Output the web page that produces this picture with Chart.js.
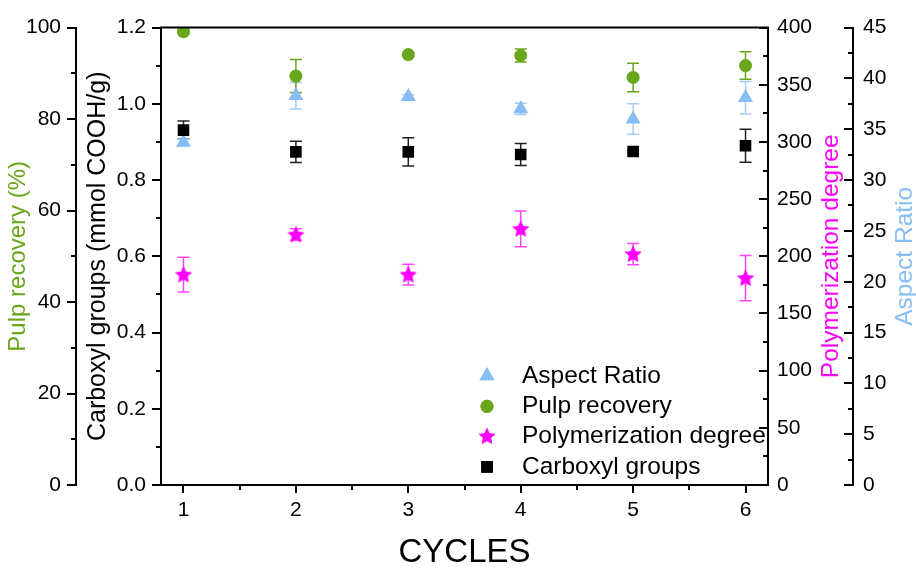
<!DOCTYPE html>
<html>
<head>
<meta charset="utf-8">
<title>Cycles chart</title>
<script src="https://cdn.jsdelivr.net/npm/chart.js@4.4.1/dist/chart.umd.min.js"></script>
<style>
    html, body { margin: 0; padding: 0; background: #fff; }
    #wrap { width: 916px; height: 569px; }
</style>
</head>
<body>
<div id="wrap"><canvas id="cyclesChart" width="916" height="569"></canvas></div>
<script>
// --- Data ---
const cycles = [1, 2, 3, 4, 5, 6];

const aspectRatio = [33.7, 38.3, 38.2, 37.0, 36.0, 38.1];
const aspectRatioErr = [0.3, 1.3, 0.2, 0.55, 1.5, 1.6];

const pulpRecovery = [99.1, 89.4, 94.1, 93.9, 89.1, 91.7];
const pulpRecoveryErr = [0.5, 3.6, 0.3, 1.4, 3.1, 3.0];

const polymerization = [184, 219, 184, 224, 202, 181];
const polymerizationErr = [15.2, 5, 9.1, 15.6, 9.3, 19.8];

const carboxyl = [0.931, 0.874, 0.874, 0.867, 0.875, 0.890];
const carboxylErr = [0.024, 0.028, 0.037, 0.029, 0.004, 0.043];

// tick labels
const cycleTicks = [1, 2, 3, 4, 5, 6];
const pulpTicks = [0, 20, 40, 60, 80, 100];
const carboxylTicks = [0, 0.2, 0.4, 0.6, 0.8, 1.0, 1.2];
const polyTicks = [0, 50, 100, 150, 200, 250, 300, 350, 400];
const aspectTicks = [0, 5, 10, 15, 20, 25, 30, 35, 40, 45];

const GREEN = '#6aa61c';
const BLUE = '#86bdf4';
const MAGENTA = '#ff00ff';
const FONT = "'Liberation Sans', Arial, sans-serif";

// filled 5-point star used as point style (Chart.js 'star' is only line based)
function makeStar(color) {
    const c = document.createElement('canvas');
    c.width = 20; c.height = 20;
    const g = c.getContext('2d');
    const R = 9.2, r = 4.4;
    g.beginPath();
    for (let i = 0; i < 10; i++) {
        const rad = i % 2 === 0 ? R : r;
        const a = -Math.PI / 2 + i * Math.PI / 5;
        const px = 10 + rad * Math.cos(a), py = 10.5 + rad * Math.sin(a);
        if (i === 0) g.moveTo(px, py); else g.lineTo(px, py);
    }
    g.closePath();
    g.fillStyle = color;
    g.fill();
    return c;
}
const starImg = makeStar(MAGENTA);

function toPoints(values) {
    return cycles.map((c, i) => ({ x: c, y: values[i] }));
}

// --- error bars, drawn under the markers ---
const errorBarsPlugin = {
    id: 'errorBars',
    beforeDatasetsDraw(chart) {
        const ctx = chart.ctx;
        const xs = chart.scales.x;
        const area = chart.chartArea;
        ctx.save();
        ctx.beginPath();
        ctx.rect(area.left, area.top, area.right - area.left, area.bottom - area.top);
        ctx.clip();
        chart.data.datasets.forEach(ds => {
            const ys = chart.scales[ds.yAxisID];
            ctx.strokeStyle = ds.errColor;
            ctx.lineWidth = 1.5;
            ds.data.forEach((p, i) => {
                const e = ds.errors[i];
                const px = xs.getPixelForValue(p.x);
                const top = ys.getPixelForValue(p.y + e);
                const bot = ys.getPixelForValue(p.y - e);
                ctx.beginPath();
                ctx.moveTo(px, top); ctx.lineTo(px, bot);
                ctx.moveTo(px - 6, top); ctx.lineTo(px + 6, top);
                ctx.moveTo(px - 6, bot); ctx.lineTo(px + 6, bot);
                ctx.stroke();
            });
        });
        ctx.restore();
    }
};

// --- frame, tick marks (major + minor), right titles and legend ---
const decorPlugin = {
    id: 'decor',
    afterDraw(chart) {
        const ctx = chart.ctx;
        const area = chart.chartArea;
        ctx.save();
        ctx.strokeStyle = '#000';
        ctx.lineWidth = 2;

        // top frame line
        ctx.beginPath();
        ctx.moveTo(area.left - 1, area.top);
        ctx.lineTo(area.right + 1, area.top);
        ctx.stroke();

        // y ticks all point to the left of their axis line
        ['yCarb', 'yPulp', 'yPoly', 'yAsp'].forEach(id => {
            const s = chart.scales[id];
            const ax = s.position === 'left' ? s.right : s.left;
            const vals = s.ticks.map(t => t.value);
            ctx.beginPath();
            vals.forEach((v, i) => {
                const py = Math.round(s.getPixelForValue(v));
                ctx.moveTo(ax, py); ctx.lineTo(ax - 9, py);
                if (i < vals.length - 1) {
                    const my = Math.round(s.getPixelForValue((v + vals[i + 1]) / 2));
                    ctx.moveTo(ax, my); ctx.lineTo(ax - 5, my);
                }
            });
            ctx.stroke();
        });

        // x ticks point down
        const xs = chart.scales.x;
        ctx.beginPath();
        xs.ticks.forEach((t, i, arr) => {
            const px = Math.round(xs.getPixelForValue(t.value));
            ctx.moveTo(px, xs.top); ctx.lineTo(px, xs.top + 8);
            if (i < arr.length - 1) {
                const mx = Math.round(xs.getPixelForValue((t.value + arr[i + 1].value) / 2));
                ctx.moveTo(mx, xs.top); ctx.lineTo(mx, xs.top + 5);
            }
        });
        ctx.stroke();

        // right axis titles, reading bottom to top
        const midY = (area.top + area.bottom) / 2;
        ctx.font = '24.5px ' + FONT;
        ctx.textAlign = 'center';
        ctx.textBaseline = 'middle';
        [['Polymerization degree', MAGENTA, 831.5], ['Aspect Ratio', BLUE, 905]].forEach(([txt, col, x]) => {
            ctx.save();
            ctx.translate(x, midY);
            ctx.rotate(-Math.PI / 2);
            ctx.fillStyle = col;
            ctx.fillText(txt, 0, 0);
            ctx.restore();
        });

        // legend inside the plot
        const items = [
            ['Aspect Ratio', 'triangle', BLUE, 8.7],
            ['Pulp recovery', 'circle', GREEN, 6.5],
            ['Polymerization degree', starImg, MAGENTA, 9],
            ['Carboxyl groups', 'rect', '#000', 8.2]
        ];
        ctx.textAlign = 'left';
        items.forEach(([label, style, col, radius], i) => {
            const ly = 376 + i * 30.3;
            ctx.fillStyle = col;
            if (style instanceof HTMLCanvasElement) {
                ctx.drawImage(style, 487 - 10, ly - 10.5);
            } else {
                Chart.helpers.drawPoint(ctx, { pointStyle: style, radius: radius, rotation: 0, borderWidth: 0 }, 487, ly);
                ctx.fill();
            }
            ctx.fillStyle = '#000';
            ctx.fillText(label, 522, ly);
        });
        ctx.restore();
    }
};

function yScale(pos, weight, min, max, ticks, fmt, width, pad) {
    return {
        type: 'linear',
        position: pos,
        weight: weight,
        min: min,
        max: max,
        afterBuildTicks: s => { s.ticks = ticks.map(v => ({ value: v })); },
        afterFit: s => { s.width = width; },
        grid: { display: false, drawTicks: false, drawOnChartArea: false },
        border: { display: true, color: '#000', width: 2 },
        ticks: { color: '#000', padding: pad, font: { family: FONT, size: 21 }, callback: fmt }
    };
}

const carbScale = yScale('left', 0, 0, 1.2, carboxylTicks, v => v.toFixed(1), 85, 15);
carbScale.title = { display: true, text: 'Carboxyl groups (mmol COOH/g)', color: '#000',
    font: { family: FONT, size: 25, lineHeight: 1 }, padding: { top: 9.5, bottom: 0 } };
const pulpScale = yScale('left', 1, 0, 100, pulpTicks, v => String(v), 76, 15);
pulpScale.title = { display: true, text: 'Pulp recovery (%)', color: GREEN,
    font: { family: FONT, size: 24, lineHeight: 1 }, padding: { top: 6.5, bottom: 0 } };
const polyScale = yScale('right', 0, 0, 400, polyTicks, v => String(v), 85, 9);
const aspScale = yScale('right', 1, 0, 45, aspectTicks, v => String(v), 63, 10);

const ctx = document.getElementById('cyclesChart').getContext('2d');
new Chart(ctx, {
    type: 'scatter',
    data: {
        datasets: [
            {
                label: 'Carboxyl groups', data: toPoints(carboxyl), errors: carboxylErr, errColor: '#222',
                yAxisID: 'yCarb', pointStyle: 'rect', pointRadius: 8.2, backgroundColor: '#000', borderWidth: 0
            },
            {
                label: 'Polymerization degree', data: toPoints(polymerization), errors: polymerizationErr, errColor: '#ff44ff',
                yAxisID: 'yPoly', pointStyle: starImg, pointRadius: 9, backgroundColor: MAGENTA, borderWidth: 0
            },
            {
                label: 'Aspect Ratio', data: toPoints(aspectRatio), errors: aspectRatioErr, errColor: '#a3cdf7',
                yAxisID: 'yAsp', pointStyle: 'triangle', pointRadius: 8.7, backgroundColor: BLUE, borderWidth: 0
            },
            {
                label: 'Pulp recovery', data: toPoints(pulpRecovery), errors: pulpRecoveryErr, errColor: GREEN,
                yAxisID: 'yPulp', pointStyle: 'circle', pointRadius: 6.5, backgroundColor: GREEN, borderWidth: 0,
                clip: 0
            }
        ]
    },
    options: {
        responsive: false,
        animation: false,
        devicePixelRatio: 1,
        layout: { padding: { top: 24, left: 0, right: 0, bottom: 0 } },
        plugins: { legend: { display: false }, tooltip: { enabled: false } },
        scales: {
            x: {
                type: 'linear',
                position: 'bottom',
                min: 0.8,
                max: 6.2,
                afterBuildTicks: s => { s.ticks = cycleTicks.map(v => ({ value: v })); },
                afterFit: s => { s.height = 84; },
                grid: { display: false, drawTicks: false, drawOnChartArea: false },
                border: { display: true, color: '#000', width: 2 },
                ticks: { color: '#000', padding: 13, maxRotation: 0, autoSkip: false,
                    font: { family: FONT, size: 21 }, callback: v => String(v) },
                title: { display: true, text: 'CYCLES', color: '#000',
                    font: { family: FONT, size: 33, lineHeight: 1 }, padding: { top: 0, bottom: 0 } }
            },
            yCarb: carbScale,
            yPulp: pulpScale,
            yPoly: polyScale,
            yAsp: aspScale
        }
    },
    plugins: [errorBarsPlugin, decorPlugin]
});
</script>
</body>
</html>
